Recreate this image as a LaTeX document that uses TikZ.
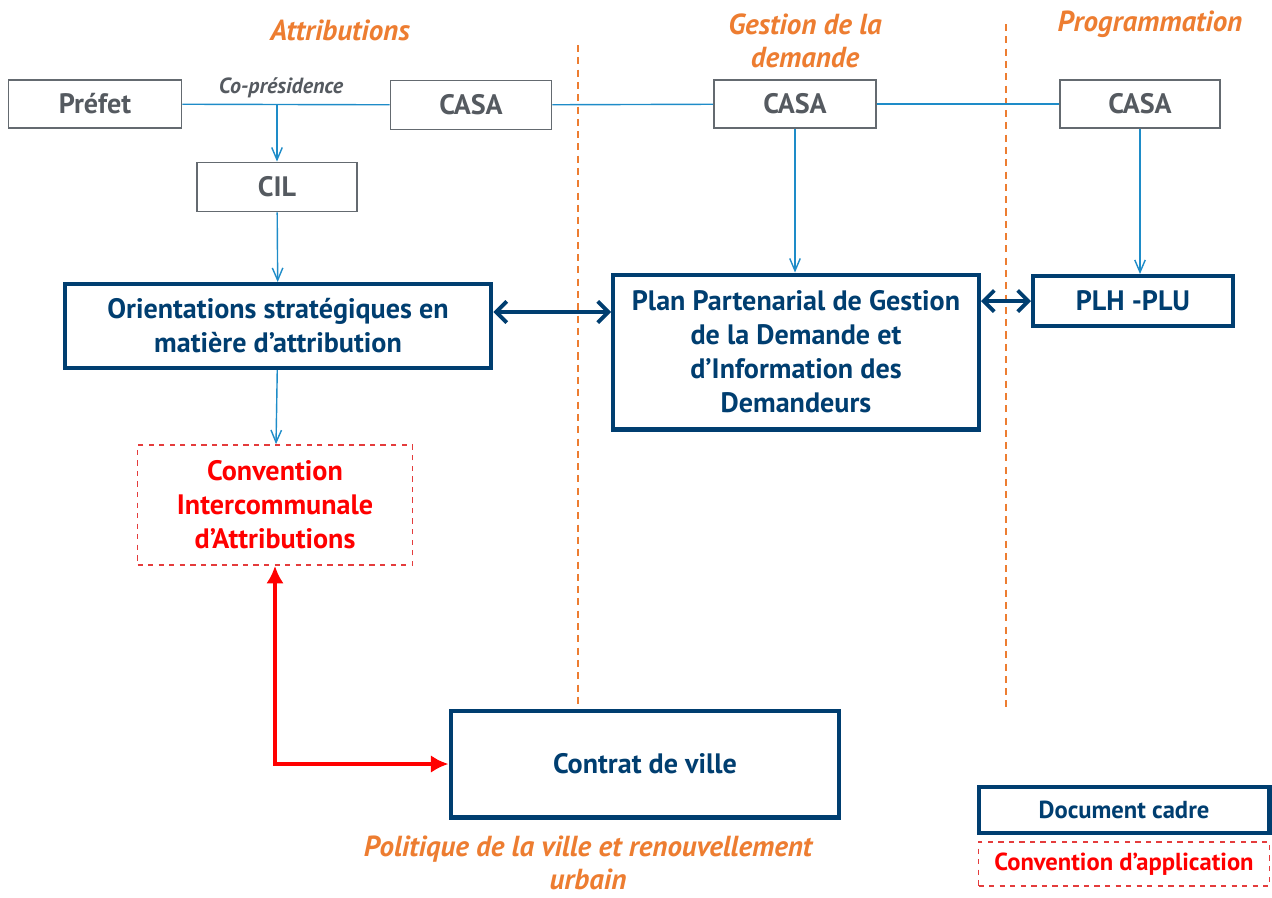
\documentclass[tikz,border=0pt]{standalone}
\usepackage{fontspec}
\setmainfont{PT Sans}
\usetikzlibrary{arrows.meta,positioning}
\definecolor{navy}{RGB}{0,62,112}
\definecolor{lineblue}{RGB}{30,140,200}
\definecolor{boxgray}{RGB}{100,106,112}
\definecolor{textgray}{RGB}{85,90,96}
\definecolor{orangetitle}{RGB}{237,125,49}
\definecolor{dashred}{RGB}{228,60,60}

\begin{document}
\begin{tikzpicture}[x = 0.02cm, y = -0.02cm,
    every node/.style = {inner sep = 0pt, align = center},
    actor/.style = {draw = boxgray, line width = 1.1pt, text = textgray,
        font = \bfseries\fontsize{16}{19}\selectfont},
    cadre/.style = {draw = navy, line width = 2.3pt, text = navy,
        font = \bfseries\fontsize{16}{19.4}\selectfont},
    appli/.style = {draw = dashred, dashed, line width = 1pt, text = red,
        font = \bfseries\fontsize{16}{19.4}\selectfont},
    themeTitle/.style = {text = orangetitle,
        font = \bfseries\itshape\fontsize{16.5}{18.4}\selectfont},
    link/.style = {draw = lineblue, line width = 0.8pt},
    down/.style = {link, -{Straight Barb[length = 7pt, width = 6pt]}},
    both/.style = {draw = navy, line width = 2.2pt,
        {Straight Barb[length = 6pt, width = 12pt]}-{Straight Barb[length = 6pt, width = 12pt]}},
    sep/.style = {draw = orangetitle, line width = 0.8pt, dash pattern = on 4pt off 3pt}
    ]
    \useasboundingbox (0,0) rectangle (1272,897);

    % separators
    \draw[sep] (578,45) -- (578,710);
    \draw[sep] (1006,24) -- (1006,712);

    % titles
    \node[themeTitle] (tAttr) at (340,30) {Attributions};
    \node[themeTitle] (tDem) at (805,41) {Gestion de la\\demande};
    \node[themeTitle] (tProg) at (1150,24) {Programmation};
    \node[themeTitle] (tPol) at (588,863) {Politique de la ville et renouvellement\\urbain};

    % actors
    \node[actor, minimum width = 3.46cm, minimum height = 0.96cm] (prefet) at (95,104) {Préfet};
    \node[actor, minimum width = 3.22cm, minimum height = 0.98cm] (casaA) at (471,105) {CASA};
    \node[actor, minimum width = 3.24cm, minimum height = 0.96cm] (casaB) at (795,104) {CASA};
    \node[actor, minimum width = 3.2cm, minimum height = 0.96cm] (casaC) at (1140,104) {CASA};
    \node[actor, minimum width = 3.2cm, minimum height = 0.98cm] (cil) at (277,187) {CIL};
    \coordinate (copres) at (277,104);
    \node[text = textgray, font = \bfseries\itshape\fontsize{12.5}{14}\selectfont] (copresLbl) at (281,88) {Co-présidence};

    % documents
    \node[cadre, minimum width = 8.54cm, minimum height = 1.68cm] (orient) at (278,326)
        {Orientations stratégiques en\\matière d’attribution};
    \node[cadre, minimum width = 7.32cm, minimum height = 3.1cm] (plan) at (796,352)
        {Plan Partenarial de Gestion\\de la Demande et\\d’Information des\\Demandeurs};
    \node[cadre, minimum width = 4cm, minimum height = 1cm] (plh) at (1133,301) {PLH -PLU};
    \node[appli, minimum width = 5.5cm, minimum height = 2.4cm] (cia) at (275,505)
        {Convention\\Intercommunale\\d’Attributions};
    \node[cadre, minimum width = 7.78cm, minimum height = 2.14cm] (contrat) at (645,764) {Contrat de ville};

    % legend
    \node[cadre, minimum width = 5.82cm, minimum height = 0.92cm,
        font = \bfseries\fontsize{14}{16}\selectfont] (legCadre) at (1124,810) {Document cadre};
    \node[appli, minimum width = 5.82cm, minimum height = 0.88cm,
        font = \bfseries\fontsize{14}{16}\selectfont] (legAppli) at (1124,864) {Convention d’application};

    % links
    \draw[link] (prefet) -- (casaA);
    \draw[link] (casaA) -- (casaB);
    \draw[link] (casaB) -- (casaC);
    \draw[down] (copres) -- (cil);
    \draw[down] (cil) -- (orient);
    \draw[down] (orient) -- (cia);
    \draw[down] (casaB.south) -- (casaB.south |- plan.north);
    \draw[down] (casaC.south) -- (casaC.south |- plh.north);
    \draw[both] ([yshift = 0.28cm]orient.east) -- ([yshift = 0.28cm]orient.east -| plan.west);
    \draw[both] (plh.west) -- (plh.west -| plan.east);
    \draw[draw = red, line width = 2pt,
        {Latex[length = 10pt, width = 10pt]}-{Latex[length = 10pt, width = 10pt]}]
        (cia.south) |- (contrat.west);
\end{tikzpicture}
\end{document}
